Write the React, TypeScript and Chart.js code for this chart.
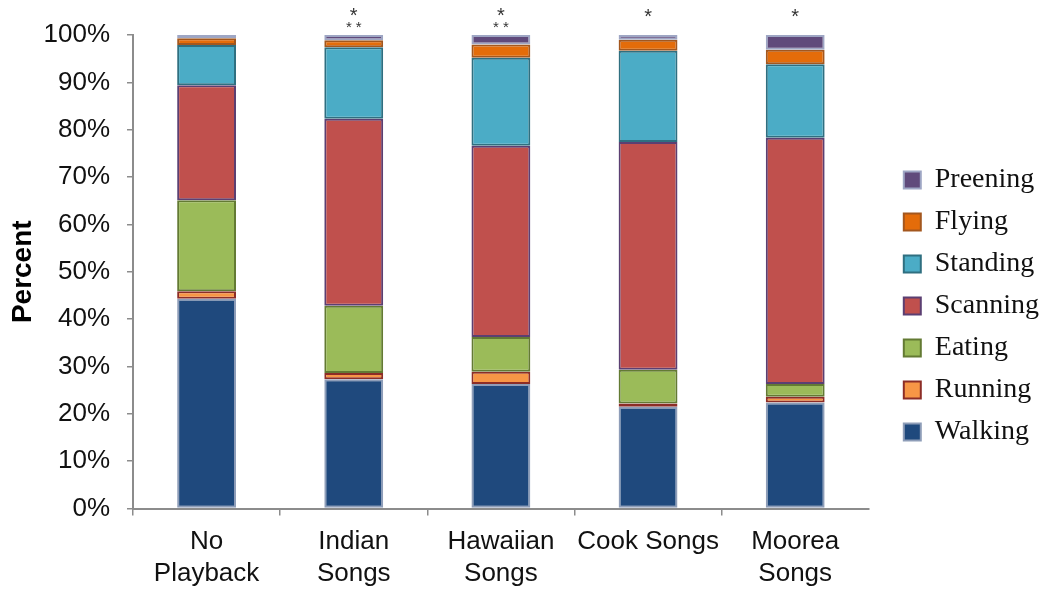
import React, { useEffect, useRef } from 'react';
import { Chart, registerables } from 'chart.js';

Chart.register(...registerables);

// Playback treatments
const categories: (string | string[])[] = [
  ['No', 'Playback'],
  ['Indian', 'Songs'],
  ['Hawaiian', 'Songs'],
  'Cook Songs',
  ['Moorea', 'Songs'],
];

// Share of time (%) spent in each behaviour per treatment
const walking = [44.3, 27.3, 26.3, 21.5, 22.4];
const running = [1.6, 1.3, 2.6, 0.7, 1.2];
const eating = [19.2, 14.2, 7.3, 7.1, 2.7];
const scanning = [24.3, 39.5, 40.4, 48.1, 52.0];
const standing = [8.5, 15.1, 18.6, 19.3, 15.5];
const flying = [1.4, 1.5, 2.8, 2.3, 3.1];
const preening = [0.7, 1.1, 2.0, 1.0, 3.1];

// Significance markers printed above each stacked bar
const significance: string[][] = [[], ['*', '**'], ['*', '**'], ['*'], ['*']];

const yTicks = [0, 10, 20, 30, 40, 50, 60, 70, 80, 90, 100];

const SANS = '"Liberation Sans", Arial, Helvetica, sans-serif';
const SERIF = '"Liberation Serif", "Times New Roman", serif';
const AXIS_GREY = '#8c8c8c';
const LEGEND_SHIFT_X = 21;
const LEGEND_SHIFT_Y = -6;

const series = [
  { label: 'Walking', data: walking, fill: '#1F497D', edge: '#8E9DB8' },
  { label: 'Running', data: running, fill: '#F79646', edge: '#8C2D27' },
  { label: 'Eating', data: eating, fill: '#9BBB59', edge: '#637A33' },
  { label: 'Scanning', data: scanning, fill: '#C0504D', edge: '#5B3F72' },
  { label: 'Standing', data: standing, fill: '#4BACC6', edge: '#2F6F80' },
  { label: 'Flying', data: flying, fill: '#E46C0A', edge: '#A3571E' },
  { label: 'Preening', data: preening, fill: '#604A7B', edge: '#9EA6C4' },
];

// Moves the legend column a little away from the plot
const legendOffsetPlugin = {
  id: 'legendOffset',
  afterLayout(chart: any) {
    const legend = chart.legend;
    if (legend) {
      legend.left += LEGEND_SHIFT_X;
      legend.right += LEGEND_SHIFT_X;
      legend.top += LEGEND_SHIFT_Y;
      legend.bottom += LEGEND_SHIFT_Y;
    }
  },
};

const significancePlugin = {
  id: 'significance',
  afterDatasetsDraw(chart: any) {
    const { ctx, scales } = chart;
    const x = scales.x;
    const y = scales.y;
    const top = y.getPixelForValue(100);
    ctx.save();
    ctx.fillStyle = '#333333';
    ctx.textAlign = 'center';
    ctx.textBaseline = 'middle';
    significance.forEach((rows, i) => {
      const cx = x.getPixelForValue(i);
      const offsets = rows.length === 2 ? [19, 7] : [18];
      rows.forEach((txt, r) => {
        const small = txt.length > 1;
        ctx.font = `${small ? 15 : 20}px ${SANS}`;
        (ctx as any).letterSpacing = small ? '4px' : '0px';
        ctx.fillText(txt, cx + (small ? 2 : 0), top - offsets[r]);
      });
    });
    ctx.restore();
  },
};

export default function App() {
  const canvasRef = useRef<HTMLCanvasElement | null>(null);

  useEffect(() => {
    const canvas = canvasRef.current;
    if (!canvas) return;
    const chart = new Chart(canvas, {
      type: 'bar',
      data: {
        labels: categories,
        datasets: series.map((s) => ({
          label: s.label,
          data: s.data,
          backgroundColor: s.fill,
          borderColor: s.edge,
          borderWidth: 2,
          borderSkipped: false,
          barPercentage: 0.4,
          categoryPercentage: 1,
        })),
      },
      options: {
        responsive: false,
        animation: false,
        devicePixelRatio: 1,
        layout: { padding: { top: 35, right: 14, bottom: 0, left: 0 } },
        plugins: {
          tooltip: { enabled: false },
          legend: {
            position: 'right',
            reverse: true,
            labels: {
              font: { family: SERIF, size: 28 },
              color: '#111111',
              boxWidth: 17,
              boxHeight: 17,
              padding: 14,
            },
          },
        },
        scales: {
          x: {
            stacked: true,
            grid: {
              offset: true,
              drawOnChartArea: false,
              drawTicks: true,
              tickLength: 7,
              lineWidth: 1.5,
              color: (c: any) => (c.type === 'tick' ? AXIS_GREY : 'rgba(0,0,0,0)'),
            },
            border: { display: true, color: AXIS_GREY, width: 2 },
            ticks: {
              font: { family: SANS, size: 26, lineHeight: 1.25 },
              color: '#111111',
              padding: 10,
              maxRotation: 0,
              autoSkip: false,
            },
            afterFit: (scale: any) => {
              scale.height = 80.5;
            },
          },
          y: {
            stacked: true,
            min: 0,
            max: 100,
            afterBuildTicks: (scale: any) => {
              scale.ticks = yTicks.map((v) => ({ value: v }));
            },
            grid: {
              drawOnChartArea: false,
              drawTicks: true,
              tickLength: 6,
              lineWidth: 1.5,
              color: AXIS_GREY,
            },
            border: { display: true, color: AXIS_GREY, width: 2 },
            ticks: {
              font: { family: SANS, size: 26 },
              color: '#111111',
              padding: 17,
              callback: (v: any) => `${v}%`,
            },
            title: {
              display: true,
              text: 'Percent',
              font: { family: SANS, size: 28, weight: 'bold' },
              color: '#000000',
              padding: { top: 6, bottom: 0 },
            },
            afterFit: (scale: any) => {
              scale.width = 133;
            },
          },
        },
      },
      plugins: [legendOffsetPlugin, significancePlugin],
    });
    return () => chart.destroy();
  }, []);

  return (
    <div style={{ position: 'absolute', left: 0, top: 0, width: 1042, height: 589, background: '#ffffff' }}>
      <canvas ref={canvasRef} width={1042} height={589} style={{ display: 'block' }} />
    </div>
  );
}
